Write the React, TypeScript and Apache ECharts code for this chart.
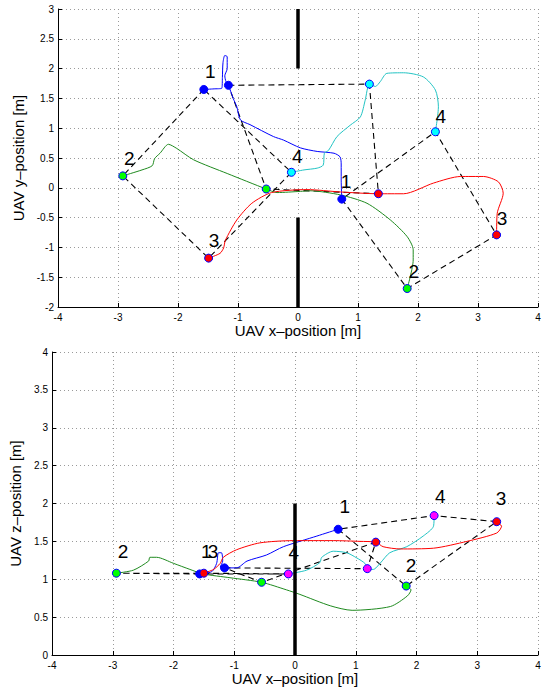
import React, { useEffect, useRef } from "react";
import * as echarts from "echarts";

// ---------- Top plot (x–y) ----------
const topBlueTraj = [[-1.57,1.65],[-1.40,1.66],[-1.27,1.67],[-1.26,1.85],[-1.25,2.1],[-1.22,2.22],[-1.18,2.2],[-1.18,2.0],[-1.22,1.88],[-1.2,1.78],[-1.16,1.72],[-1.08,1.5],[-1.02,1.36],[-0.96,1.14],[-0.8,1.06],[-0.41,0.86],[-0.24,0.8],[0.04,0.67],[0.32,0.61],[0.6,0.58],[0.7,0.52],[0.72,0.4],[0.72,0.13],[0.73,-0.19]];
const topCyanTraj = [[-0.11,0.26],[0.1,0.3],[0.32,0.33],[0.42,0.38],[0.44,0.58],[0.51,0.63],[0.65,0.86],[0.87,1.05],[1.04,1.19],[1.12,1.47],[1.19,1.74],[1.29,1.70],[1.37,1.78],[1.48,1.92],[1.76,1.93],[2.09,1.86],[2.29,1.64],[2.34,1.36],[2.29,0.94]];
const topGreenTraj = [[-2.92,0.2],[-2.6,0.3],[-2.43,0.37],[-2.39,0.49],[-2.30,0.58],[-2.16,0.73],[-2.02,0.66],[-1.74,0.47],[-1.18,0.24],[-0.53,-0.02],[-0.35,-0.08],[0.04,-0.06],[0.2,-0.05],[0.71,-0.12],[1.15,-0.26],[1.54,-0.54],[1.82,-0.82],[1.92,-1.04],[1.92,-1.21],[1.82,-1.69]];
const topRedTraj = [[-1.49,-1.18],[-1.30,-1.10],[-1.24,-1.01],[-1.21,-0.88],[-1.02,-0.54],[-0.77,-0.26],[-0.44,-0.08],[0.15,-0.03],[0.71,-0.07],[1.34,-0.10],[1.76,-0.10],[2.26,0.08],[2.71,0.19],[3.09,0.19],[3.34,0.10],[3.42,-0.09],[3.32,-0.43],[3.31,-0.79]];

const topBluePts = [[-1.57,1.65],[-1.16,1.72],[0.73,-0.19]];
const topCyanPts = [[-0.11,0.26],[1.19,1.74],[2.29,0.94]];
const topGreenPts = [[-2.92,0.2],[-0.53,-0.02],[1.82,-1.69]];
const topRedPts = [[-1.49,-1.18],[1.34,-0.10],[3.31,-0.79]];

const topForm1 = [[-1.57,1.65],[-2.92,0.2],[-1.49,-1.18],[-0.11,0.26],[-1.57,1.65]];
const topForm2 = [[-1.16,1.72],[1.19,1.74],[1.34,-0.10],[-0.53,-0.02],[-1.16,1.72]];
const topForm3 = [[0.73,-0.19],[1.82,-1.69],[3.31,-0.79],[2.29,0.94],[0.73,-0.19]];

const topWallUpper = [[0,2],[0,3]];
const topWallLower = [[0,-2],[0,-0.5]];

const topLabels = [[-1.46,1.95,"1"],[-2.81,0.5,"2"],[-1.4,-0.89,"3"],[-0.01,0.53,"4"],[0.8,0.1,"1"],[1.93,-1.41,"2"],[3.4,-0.51,"3"],[2.38,1.2,"4"]];

// ---------- Bottom plot (x–z) ----------
const botBlueTraj = [[-1.57,1.07],[-1.37,1.10],[-1.29,1.21],[-1.26,1.35],[-1.21,1.35],[-1.19,1.24],[-1.23,1.16],[-1.16,1.15],[-0.96,1.15],[-0.79,1.24],[-0.47,1.32],[-0.19,1.43],[0.36,1.57],[0.71,1.66]];
const botRedTraj = [[-1.50,1.08],[-1.34,1.13],[-1.23,1.21],[-1.18,1.29],[-0.96,1.39],[-0.58,1.48],[-0.03,1.51],[0.63,1.51],[1.07,1.50],[1.33,1.49],[1.45,1.43],[1.73,1.40],[2.28,1.41],[2.83,1.50],[3.32,1.61],[3.40,1.70],[3.32,1.76]];
const botGreenTraj = [[-2.94,1.08],[-2.66,1.12],[-2.41,1.24],[-2.39,1.29],[-2.28,1.29],[-2.0,1.21],[-1.73,1.13],[-1.51,1.07],[-1.07,1.02],[-0.55,0.96],[-0.14,0.86],[0.08,0.80],[0.58,0.65],[0.94,0.59],[1.57,0.64],[1.85,0.78],[1.91,0.86],[1.83,0.91]];
const botCyanTraj = [[-0.11,1.07],[0.19,1.12],[0.41,1.22],[0.44,1.29],[0.63,1.37],[0.85,1.35],[1.02,1.28],[1.15,1.21],[1.19,1.14],[1.29,1.13],[1.40,1.21],[1.56,1.35],[1.84,1.43],[2.11,1.57],[2.28,1.70],[2.29,1.84]];

const botBluePts = [[-1.57,1.07],[-1.16,1.15],[0.71,1.66]];
const botRedPts = [[-1.50,1.08],[1.33,1.49],[3.32,1.76]];
const botGreenPts = [[-2.94,1.08],[-0.55,0.96],[1.83,0.91]];
const botMagentaPts = [[-0.11,1.07],[1.19,1.14],[2.29,1.84]];

const botForm1 = [[-1.57,1.07],[-2.94,1.08],[-1.50,1.08],[-0.11,1.07],[-1.57,1.07]];
const botForm2 = [[-1.16,1.15],[1.19,1.14],[1.33,1.49],[-0.55,0.96],[-1.16,1.15]];
const botForm3 = [[0.71,1.66],[1.83,0.91],[3.32,1.76],[2.29,1.84],[0.71,1.66]];

const botWall = [[0,0],[0,2]];

const botLabels = [[-2.83,1.37,"2"],[-1.46,1.37,"1"],[-1.35,1.37,"3"],[-0.02,1.35,"4"],[0.82,1.96,"1"],[1.91,1.18,"2"],[3.39,2.06,"3"],[2.39,2.09,"4"]];

const FONT = "'Liberation Sans', Arial, Helvetica, sans-serif";
const BLUE = "#0000ff";
const RED = "#ff0000";
const GREEN_LINE = "#1f8a1f";
const CYAN_LINE = "#22c4c4";

function traj(data: number[][], color: string, idx: number) {
  return {
    type: "line", xAxisIndex: idx, yAxisIndex: idx, data, showSymbol: false, symbol: "none",
    smooth: 0.25, lineStyle: { color, width: 1 }, z: 3, silent: true,
  };
}
function dashed(data: number[][], idx: number) {
  return {
    type: "line", xAxisIndex: idx, yAxisIndex: idx, data, showSymbol: false, symbol: "none",
    lineStyle: { color: "#000", width: 1.1, type: [6, 4] }, z: 2, silent: true,
  };
}
function wall(data: number[][], idx: number) {
  return {
    type: "line", xAxisIndex: idx, yAxisIndex: idx, data, showSymbol: false, symbol: "none",
    lineStyle: { color: "#000", width: 3.5 }, z: 4, silent: true,
  };
}
function pts(data: number[][], fill: string, idx: number) {
  return {
    type: "scatter", xAxisIndex: idx, yAxisIndex: idx, data, symbol: "circle", symbolSize: 8,
    itemStyle: { color: fill, borderColor: BLUE, borderWidth: 1, opacity: 1 }, z: 5, silent: true,
  };
}
function labels(data: any[], idx: number) {
  return {
    type: "scatter", xAxisIndex: idx, yAxisIndex: idx, data, symbolSize: 1,
    itemStyle: { color: "rgba(0,0,0,0)" }, z: 6, silent: true,
    label: {
      show: true, position: "inside", formatter: (p: any) => p.value[2],
      fontSize: 19, color: "#000000", textBorderWidth: 0, textBorderColor: "transparent",
      fontFamily: FONT, opacity: 1,
    },
  };
}

function xAxis(idx: number) {
  return {
    type: "value", gridIndex: idx, min: -4, max: 4, interval: 1,
    name: "UAV x–position [m]", nameLocation: "middle", nameGap: 14,
    nameTextStyle: { fontSize: 15, color: "#000", fontFamily: FONT },
    axisLine: { onZero: false, lineStyle: { color: "#000", width: 1 } },
    axisTick: { show: true, inside: true, length: 4, lineStyle: { color: "#000" } },
    axisLabel: { fontSize: 10, color: "#000", margin: 5, fontFamily: FONT },
    splitLine: { show: true, lineStyle: { color: "#9a9a9a", width: 1, type: [1, 3] } },
  };
}
function yAxis(idx: number, name: string, min: number, max: number, gap: number) {
  return {
    type: "value", gridIndex: idx, min, max, interval: 0.5,
    name, nameLocation: "middle", nameGap: gap, nameRotate: 90,
    nameTextStyle: { fontSize: 15, color: "#000", fontFamily: FONT },
    axisLine: { onZero: false, lineStyle: { color: "#000", width: 1 } },
    axisTick: { show: true, inside: true, length: 4, lineStyle: { color: "#000" } },
    axisLabel: { fontSize: 10, color: "#000", margin: 4, fontFamily: FONT },
    splitLine: { show: true, lineStyle: { color: "#9a9a9a", width: 1, type: [1, 3] } },
  };
}

export default function App() {
  const ref = useRef<HTMLDivElement>(null);
  useEffect(() => {
    if (!ref.current) return;
    const chart = echarts.init(ref.current, undefined, { renderer: "svg" });
    chart.setOption({
      animation: false,
      backgroundColor: "#ffffff",
      textStyle: { fontFamily: FONT },
      grid: [
        { left: 58, top: 9, width: 480, height: 298 },
        { left: 52, top: 352, width: 486, height: 303 },
      ],
      xAxis: [xAxis(0), xAxis(1)],
      yAxis: [
        yAxis(0, "UAV y–position [m]", -2, 3, 23),
        yAxis(1, "UAV z–position [m]", 0, 4, 19),
      ],
      series: [
        dashed(topForm1, 0), dashed(topForm2, 0), dashed(topForm3, 0),
        traj(topBlueTraj, BLUE, 0), traj(topCyanTraj, CYAN_LINE, 0),
        traj(topGreenTraj, GREEN_LINE, 0), traj(topRedTraj, RED, 0),
        wall(topWallUpper, 0), wall(topWallLower, 0),
        pts(topBluePts, BLUE, 0), pts(topCyanPts, "#00ffff", 0),
        pts(topGreenPts, "#00ff00", 0), pts(topRedPts, RED, 0),
        labels(topLabels, 0),

        dashed(botForm1, 1), dashed(botForm2, 1), dashed(botForm3, 1),
        traj(botBlueTraj, BLUE, 1), traj(botCyanTraj, CYAN_LINE, 1),
        traj(botGreenTraj, GREEN_LINE, 1), traj(botRedTraj, RED, 1),
        wall(botWall, 1),
        pts(botBluePts, BLUE, 1), pts(botRedPts, RED, 1),
        pts(botGreenPts, "#00ff00", 1), pts(botMagentaPts, "#ff00ff", 1),
        labels(botLabels, 1),
      ],
    });
    return () => chart.dispose();
  }, []);
  return (
    <div
      ref={ref}
      style={{ position: "fixed", left: 0, top: 0, width: 545, height: 690, background: "#fff" }}
    />
  );
}
